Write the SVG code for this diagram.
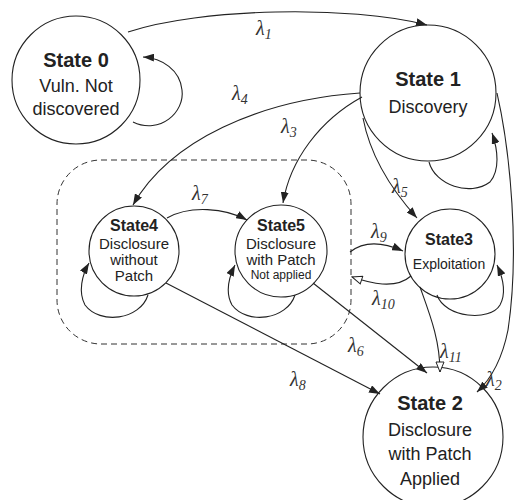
<svg xmlns="http://www.w3.org/2000/svg" width="515" height="500" viewBox="0 0 515 500">
<style>
.n{fill:#fff;stroke:#222;stroke-width:1.1}
.t{font-family:"Liberation Sans",Arial,sans-serif;fill:#222;text-anchor:middle}
.b{font-weight:bold}
.e{fill:none;stroke:#222;stroke-width:1.1}
.lam{font-family:"Liberation Serif","Times New Roman",serif;font-style:italic;font-size:20px;fill:#333}
.sub{font-size:14px}
</style>
<defs>
<marker id="a" markerWidth="11" markerHeight="8" refX="11" refY="4" orient="auto" markerUnits="userSpaceOnUse"><path d="M0,0 L11,4 L0,8 z" fill="#222"/></marker>
<marker id="h" markerWidth="12" markerHeight="10" refX="11" refY="5" orient="auto" markerUnits="userSpaceOnUse"><path d="M1,1 L11,5 L1,9 z" fill="#fff" stroke="#222" stroke-width="1"/></marker>
</defs>
<rect x="57" y="160" width="294" height="184" rx="44" fill="none" stroke="#333" stroke-width="1" stroke-dasharray="6,4"/>
<g id="state0"><circle class="n" cx="76" cy="80" r="64"/>
<text class="t b" x="76" y="67" font-size="20">State 0</text>
<text class="t" x="76" y="92" font-size="18">Vuln. Not</text>
<text class="t" x="76" y="115" font-size="18">discovered</text></g>
<g id="state1"><circle class="n" cx="428" cy="93" r="68"/>
<text class="t b" x="428" y="86" font-size="20">State 1</text>
<text class="t" x="428" y="113" font-size="18">Discovery</text></g>
<g id="state4"><circle class="n" cx="134" cy="251" r="45"/>
<text class="t b" x="134" y="231" font-size="16">State4</text>
<text class="t" x="134" y="249" font-size="15">Disclosure</text>
<text class="t" x="134" y="265" font-size="15">without</text>
<text class="t" x="134" y="281" font-size="15">Patch</text></g>
<g id="state5"><circle class="n" cx="281" cy="251" r="46"/>
<text class="t b" x="281" y="231" font-size="16">State5</text>
<text class="t" x="281" y="249" font-size="15">Disclosure</text>
<text class="t" x="281" y="265" font-size="15">with Patch</text>
<text class="t" x="281" y="279" font-size="12">Not applied</text></g>
<g id="state3"><circle class="n" cx="450" cy="254" r="45"/>
<text class="t b" x="449" y="245" font-size="16">State3</text>
<text class="t" x="449" y="269" font-size="14">Exploitation</text></g>
<g id="state2"><circle class="n" cx="433" cy="437" r="70"/>
<text class="t b" x="430" y="410" font-size="20">State 2</text>
<text class="t" x="430" y="436" font-size="18">Disclosure</text>
<text class="t" x="430" y="460" font-size="18">with Patch</text>
<text class="t" x="430" y="485" font-size="18">Applied</text></g>
<g id="edges">
<path class="e" marker-end="url(#a)" d="M128,32 C200,8 350,5 427,25"/>
<path class="e" marker-end="url(#a)" d="M133,122 C160,135 185,112 182,90 C180,70 162,58 143,57"/>
<path class="e" marker-end="url(#a)" d="M429,162 C435,185 470,197 490,182 C500,170 498,150 492,133"/>
<path class="e" marker-end="url(#a)" d="M148,295 C140,320 100,325 85,305 C78,292 82,275 89,263"/>
<path class="e" marker-end="url(#a)" d="M295,295 C287,320 247,325 232,305 C225,292 229,277 235,265"/>
<path class="e" marker-end="url(#a)" d="M437,295 C445,318 490,322 500,305 C507,292 503,278 497,265"/>
<path class="e" marker-end="url(#a)" d="M497,93 C510,150 520,250 508,330 C502,360 490,380 477,392"/>
<path class="e" marker-end="url(#h)" d="M420,287 C430,315 440,340 440,372"/>
<path class="e" marker-end="url(#a)" d="M363,118 C370,155 390,188 417,218"/>
<path class="e" marker-end="url(#a)" d="M362,97 C320,120 290,160 283,203"/>
<path class="e" marker-end="url(#a)" d="M360,93 C260,100 170,140 133,205"/>
<path class="e" marker-end="url(#a)" d="M167,218 C190,205 225,208 247,220"/>
<path class="e" marker-end="url(#a)" d="M350,252 C365,240 385,243 403,251"/>
<path class="e" marker-end="url(#h)" d="M411,276 C395,290 370,283 352,277"/>
<path class="e" marker-end="url(#a)" d="M313,283 L427,373"/>
<path class="e" marker-end="url(#a)" d="M166,283 L380,394"/>
<text class="lam" x="256" y="35">λ<tspan class="sub" dy="4">1</tspan></text>
<text class="lam" x="232" y="100">λ<tspan class="sub" dy="4">4</tspan></text>
<text class="lam" x="281" y="133">λ<tspan class="sub" dy="4">3</tspan></text>
<text class="lam" x="392" y="193">λ<tspan class="sub" dy="4">5</tspan></text>
<text class="lam" x="192" y="200">λ<tspan class="sub" dy="4">7</tspan></text>
<text class="lam" x="371" y="238">λ<tspan class="sub" dy="4">9</tspan></text>
<text class="lam" x="372" y="305">λ<tspan class="sub" dy="4">10</tspan></text>
<text class="lam" x="348" y="352">λ<tspan class="sub" dy="4">6</tspan></text>
<text class="lam" x="290" y="386">λ<tspan class="sub" dy="4">8</tspan></text>
<text class="lam" x="440" y="358">λ<tspan class="sub" dy="4">11</tspan></text>
<text class="lam" x="486" y="386">λ<tspan class="sub" dy="4">2</tspan></text>
</g>
</svg>
